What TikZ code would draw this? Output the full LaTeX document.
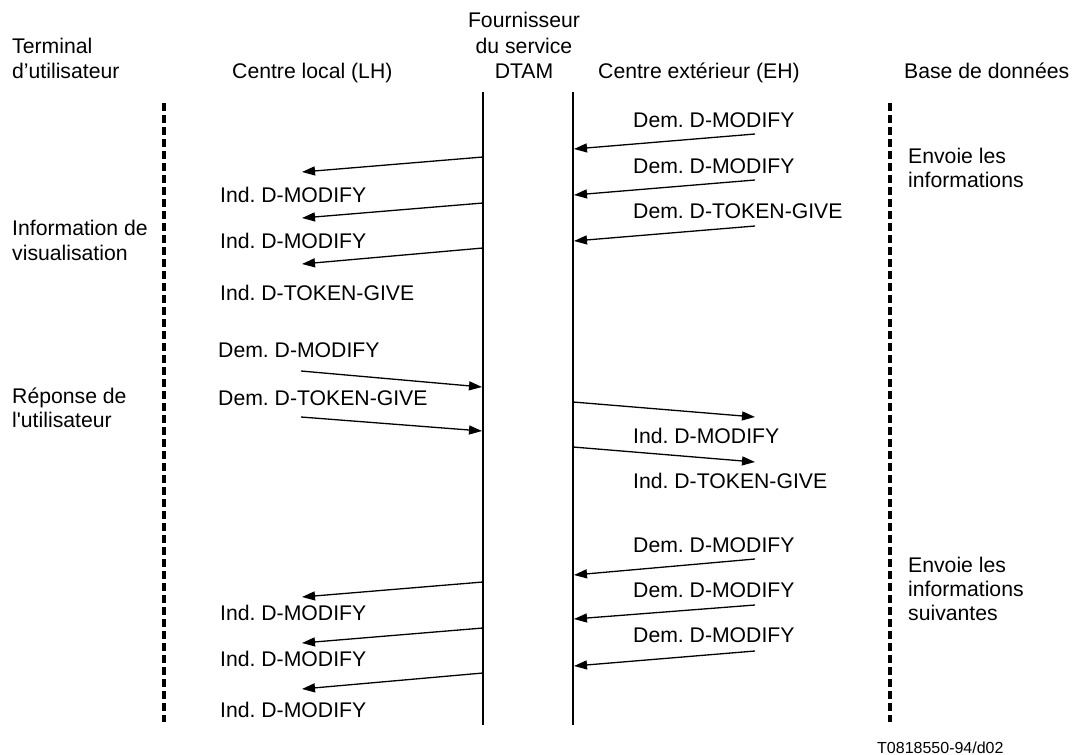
\documentclass[tikz,border=0pt]{standalone}
\usepackage{fontspec}
\setmainfont{Liberation Sans}
\usetikzlibrary{arrows.meta}
\begin{document}
\frenchspacing
\begin{tikzpicture}[x=1pt,y=-1pt,
  txt/.style={anchor=base west, inner sep=0pt, font=\fontsize{21.2}{25}\selectfont},
  ctxt/.style={anchor=base, inner sep=0pt, font=\fontsize{21.2}{25}\selectfont},
  small/.style={anchor=base west, inner sep=0pt, font=\fontsize{16}{19}\selectfont},
  msg/.style={line width=1.3pt, -{Triangle[length=13pt,width=9pt]}},
  life/.style={line width=2pt},
  dline/.style={line width=4pt, dash pattern=on 8pt off 4pt}]
\useasboundingbox (0,0) rectangle (1072,755);
% headers
\node[txt] (h1a) at (12,53) {Terminal};
\node[txt] (h1b) at (12,78) {d’utilisateur};
\node[txt] (h2) at (232,78) {Centre local (LH)};
\node[ctxt] (h3a) at (524,27) {Fournisseur};
\node[ctxt] (h3b) at (524,53) {du service};
\node[ctxt] (h3c) at (524,78) {DTAM};
\node[txt] (h4) at (598,78) {Centre extérieur (EH)};
\node[txt] (h5) at (904,78) {Base de données};
% lifelines
\coordinate (T1) at (164,103); \coordinate (T2) at (164,722);
\coordinate (L1) at (483,92);  \coordinate (L2) at (483,725);
\coordinate (R1) at (573,92);  \coordinate (R2) at (573,725);
\coordinate (B1) at (890,103); \coordinate (B2) at (890,722);
\draw[dline] (T1) -- (T2);
\draw[dline] (B1) -- (B2);
\draw[life] (L1) -- (L2);
\draw[life] (R1) -- (R2);
% side notes
\node[txt] (n1a) at (12,235) {Information de};
\node[txt] (n1b) at (12,260) {visualisation};
\node[txt] (n2a) at (12,403) {Réponse de};
\node[txt] (n2b) at (12,427) {l\textquotesingle utilisateur};
\node[txt] (n3a) at (908,163) {Envoie les};
\node[txt] (n3b) at (908,187) {informations};
\node[txt] (n4a) at (908,572) {Envoie les};
\node[txt] (n4b) at (908,596) {informations};
\node[txt] (n4c) at (908,620) {suivantes};
% top right: EH -> service
\node[txt] (m1) at (633,127) {Dem. D-MODIFY};
\node[txt] (m2) at (633,173) {Dem. D-MODIFY};
\node[txt] (m3) at (633,218) {Dem. D-TOKEN-GIVE};
\coordinate (a1s) at (755,134); \coordinate (a1e) at (574,149);
\coordinate (a2s) at (755,180); \coordinate (a2e) at (574,195);
\coordinate (a3s) at (755,226); \coordinate (a3e) at (574,241);
\draw[msg] (a1s) -- (a1e);
\draw[msg] (a2s) -- (a2e);
\draw[msg] (a3s) -- (a3e);
% top left: service -> LH
\coordinate (b1s) at (483,157); \coordinate (b1e) at (302,172);
\coordinate (b2s) at (483,203); \coordinate (b2e) at (302,218);
\coordinate (b3s) at (483,248); \coordinate (b3e) at (302,264);
\draw[msg] (b1s) -- (b1e);
\draw[msg] (b2s) -- (b2e);
\draw[msg] (b3s) -- (b3e);
\node[txt] (i1) at (220,202) {Ind. D-MODIFY};
\node[txt] (i2) at (220,248) {Ind. D-MODIFY};
\node[txt] (i3) at (220,300) {Ind. D-TOKEN-GIVE};
% middle left: LH -> service
\node[txt] (d1) at (218,357) {Dem. D-MODIFY};
\node[txt] (d2) at (218,405) {Dem. D-TOKEN-GIVE};
\coordinate (c1s) at (301,371); \coordinate (c1e) at (482,387);
\coordinate (c2s) at (301,417); \coordinate (c2e) at (482,431);
\draw[msg] (c1s) -- (c1e);
\draw[msg] (c2s) -- (c2e);
% middle right: service -> EH
\coordinate (e1s) at (573,402); \coordinate (e1e) at (755,417);
\coordinate (e2s) at (573,447); \coordinate (e2e) at (755,462);
\draw[msg] (e1s) -- (e1e);
\draw[msg] (e2s) -- (e2e);
\node[txt] (j1) at (633,443) {Ind. D-MODIFY};
\node[txt] (j2) at (633,488) {Ind. D-TOKEN-GIVE};
% bottom right: EH -> service
\node[txt] (k1) at (633,552) {Dem. D-MODIFY};
\node[txt] (k2) at (633,597) {Dem. D-MODIFY};
\node[txt] (k3) at (633,642) {Dem. D-MODIFY};
\coordinate (f1s) at (755,559); \coordinate (f1e) at (574,575);
\coordinate (f2s) at (755,605); \coordinate (f2e) at (574,619);
\coordinate (f3s) at (755,651); \coordinate (f3e) at (574,666);
\draw[msg] (f1s) -- (f1e);
\draw[msg] (f2s) -- (f2e);
\draw[msg] (f3s) -- (f3e);
% bottom left: service -> LH
\coordinate (g1s) at (483,582); \coordinate (g1e) at (302,597);
\coordinate (g2s) at (483,628); \coordinate (g2e) at (302,643);
\coordinate (g3s) at (483,673); \coordinate (g3e) at (302,689);
\draw[msg] (g1s) -- (g1e);
\draw[msg] (g2s) -- (g2e);
\draw[msg] (g3s) -- (g3e);
\node[txt] (l1) at (220,620) {Ind. D-MODIFY};
\node[txt] (l2) at (220,666) {Ind. D-MODIFY};
\node[txt] (l3) at (220,717) {Ind. D-MODIFY};
% code
\node[small] (code) at (877,753) {T0818550-94/d02};
\end{tikzpicture}
\end{document}
